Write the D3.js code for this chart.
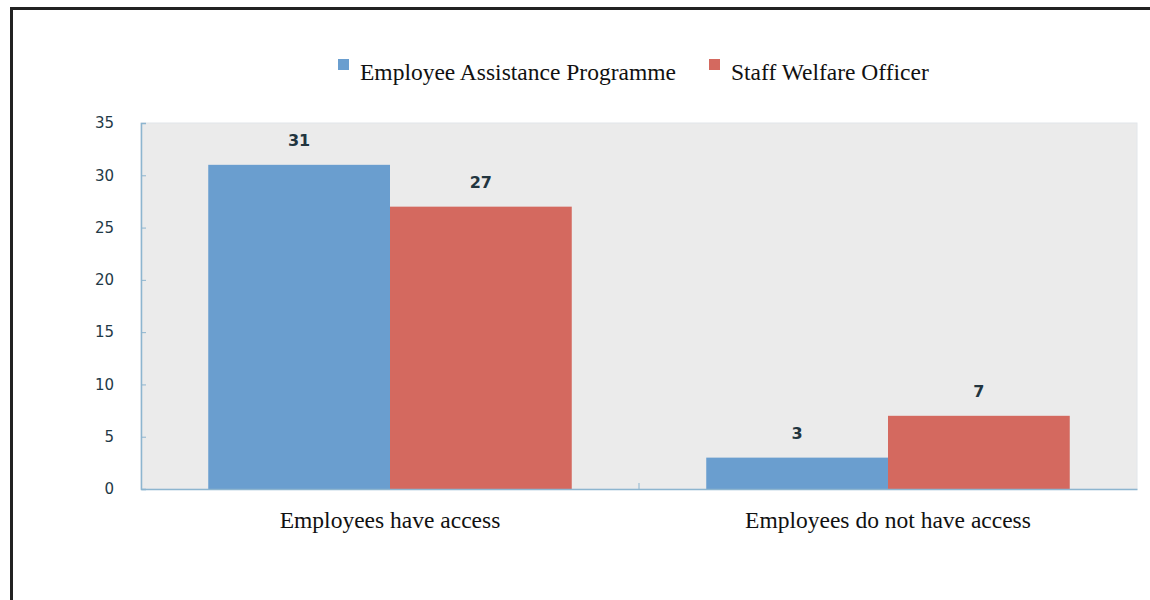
<!DOCTYPE html>
<html>
<head>
<meta charset="utf-8">
<script src="https://cdn.jsdelivr.net/npm/d3@7"></script>
<style>
  html, body { margin: 0; padding: 0; background: #fff; }
  svg { display: block; }
</style>
</head>
<body>
<svg id="chart" width="1150" height="600"></svg>
<script>
// Chart data
const categories = ["Employees have access", "Employees do not have access"];
const seriesNames = ["Employee Assistance Programme", "Staff Welfare Officer"];
const assistanceProgramme = [31, 3];
const welfareOfficer = [27, 7];
const yTicks = [0, 5, 10, 15, 20, 25, 30, 35];

const seriesColors = ["#6a9ecf", "#d4695f"];
const seriesValues = [assistanceProgramme, welfareOfficer];

const svg = d3.select("#chart");

// Outer frame
svg.append("rect")
  .attr("x", 11.5).attr("y", 8.5)
  .attr("width", 1160).attr("height", 620)
  .attr("fill", "none").attr("stroke", "#222").attr("stroke-width", 3);

const plot = { left: 141, right: 1137, top: 123, bottom: 489 };

const x0 = d3.scaleBand().domain(categories).range([plot.left, plot.right]).padding(0);
const x1 = d3.scaleBand().domain(seriesNames).range([0, x0.bandwidth()])
  .paddingInner(0).paddingOuter(0.37);
const y = d3.scaleLinear().domain([0, 35]).range([plot.bottom, plot.top]);

// Plot background
svg.append("rect")
  .attr("x", plot.left).attr("y", plot.top)
  .attr("width", plot.right - plot.left).attr("height", plot.bottom - plot.top)
  .attr("fill", "#ebebeb").attr("stroke", "#e2e6ea");

// Bars
const groups = svg.append("g").selectAll("g")
  .data(categories)
  .join("g")
  .attr("transform", d => `translate(${x0(d)},0)`);

const cells = (c, i) => seriesNames.map((s, j) => ({ s, j, v: seriesValues[j][i] }));

groups.selectAll("rect")
  .data(cells)
  .join("rect")
  .attr("x", d => x1(d.s))
  .attr("width", x1.bandwidth())
  .attr("y", d => y(d.v))
  .attr("height", d => y(0) - y(d.v))
  .attr("fill", d => seriesColors[d.j]);

// Value labels above each bar
groups.selectAll("text.val")
  .data(cells)
  .join("text")
  .attr("class", "val")
  .attr("x", d => x1(d.s) + x1.bandwidth() / 2)
  .attr("y", d => y(d.v) - 19)
  .attr("text-anchor", "middle")
  .attr("font-family", "DejaVu Sans, Verdana, sans-serif")
  .attr("font-weight", "bold")
  .attr("font-size", 16)
  .attr("fill", "#22353f")
  .text(d => d.v);

// Y axis
const yAxis = d3.axisLeft(y).tickValues(yTicks).tickSize(-5).tickPadding(27);
const yg = svg.append("g").attr("transform", `translate(${plot.left},0)`).call(yAxis);
yg.select(".domain").attr("stroke", "#8db5cf").attr("stroke-width", 1.5);
yg.selectAll(".tick line").attr("stroke", "#8db5cf");
yg.selectAll(".tick text")
  .attr("font-family", "DejaVu Sans, Verdana, sans-serif")
  .attr("font-size", 15)
  .attr("fill", "#1f3a47");

// X axis
const xAxis = d3.axisBottom(x0).tickSize(0);
const xg = svg.append("g").attr("transform", `translate(0,${plot.bottom})`).call(xAxis);
xg.select(".domain").attr("stroke", "#8db5cf").attr("stroke-width", 1.5);
xg.selectAll(".tick text")
  .attr("y", 39).attr("dy", 0)
  .attr("font-family", "Liberation Serif, Times New Roman, serif")
  .attr("font-size", 23.5)
  .attr("fill", "#111");
// Band boundary ticks
xg.selectAll("line.sep")
  .data(categories.slice(1))
  .join("line")
  .attr("class", "sep")
  .attr("x1", d => x0(d)).attr("x2", d => x0(d))
  .attr("y1", 0).attr("y2", -6)
  .attr("stroke", "#8db5cf");

// Legend
const legendX = [338, 709];
const legend = svg.append("g").selectAll("g")
  .data(seriesNames)
  .join("g")
  .attr("transform", (d, i) => `translate(${legendX[i]},59)`);
legend.append("rect")
  .attr("width", 11).attr("height", 11)
  .attr("fill", (d, i) => seriesColors[i]);
legend.append("text")
  .attr("x", 22).attr("y", 21)
  .attr("font-family", "Liberation Serif, Times New Roman, serif")
  .attr("font-size", 23.5)
  .attr("fill", "#111")
  .text(d => d);
</script>
</body>
</html>
